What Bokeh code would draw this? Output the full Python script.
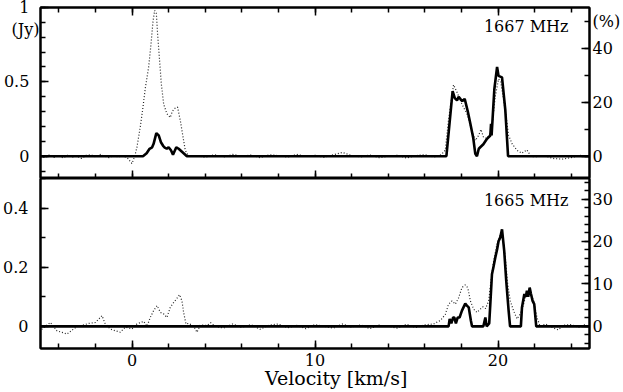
from bokeh.plotting import figure
from bokeh.layouts import column
from bokeh.models import (Range1d, LinearAxis, SingleIntervalTicker, FixedTicker, PrintfTickFormatter,
                          Label, ColumnDataSource)
from bokeh.embed import file_html
from bokeh.resources import INLINE

# ---------------- data (velocity km/s, flux Jy) ----------------
# 1667 MHz, dotted (total intensity)
up_dot = [(-5.0, 0.0), (-4.75, -0.01), (-4.5, 0.01), (-4.25, -0.008), (-4.0, 0.005), (-3.75, -0.012),
          (-3.5, 0.008), (-3.25, -0.005), (-3.0, 0.0), (-2.75, -0.015), (-2.5, 0.006), (-2.25, 0.01),
          (-2.0, -0.004), (-1.75, 0.012), (-1.5, 0.0), (-1.25, -0.01), (-1.0, 0.005), (-0.75, -0.006),
          (-0.5, 0.004), (-0.25, -0.012), (0.0, -0.05), (0.15, 0.0), (0.27, 0.06), (0.45, 0.195),
          (0.6, 0.33), (0.73, 0.46), (0.91, 0.6), (1.04, 0.756), (1.15, 0.91), (1.24, 0.98),
          (1.33, 0.96), (1.4, 0.82), (1.51, 0.64), (1.6, 0.49), (1.73, 0.35), (1.91, 0.285),
          (2.09, 0.26), (2.2, 0.3), (2.31, 0.32), (2.49, 0.33), (2.64, 0.24), (2.79, 0.128),
          (2.91, 0.04), (3.1, 0.0), (3.5, 0.005), (4.0, -0.008), (4.5, 0.01), (5.0, -0.005),
          (5.5, 0.012), (6.0, 0.0), (6.5, 0.008), (7.0, -0.01), (7.5, 0.01), (8.0, 0.004),
          (8.5, -0.006), (9.0, 0.012), (9.5, 0.0), (10.0, 0.006), (10.5, -0.008), (11.0, 0.01),
          (11.5, 0.025), (12.0, 0.005), (12.5, -0.005), (13.0, 0.008), (13.5, -0.01), (14.0, 0.0),
          (14.5, 0.006), (15.0, -0.012), (15.5, 0.004), (16.0, 0.01), (16.5, -0.006), (16.9, 0.01),
          (17.12, 0.04), (17.3, 0.25), (17.57, 0.48), (17.76, 0.43), (18.03, 0.35), (18.3, 0.285),
          (18.58, 0.17), (18.76, 0.105), (18.94, 0.14), (19.07, 0.18), (19.2, 0.13), (19.4, 0.12),
          (19.55, 0.15), (19.67, 0.195), (19.85, 0.4), (20.03, 0.52), (20.15, 0.5), (20.31, 0.375),
          (20.45, 0.26), (20.58, 0.14), (20.77, 0.083), (21.04, 0.04), (21.3, 0.02), (21.58, 0.043),
          (21.8, 0.0), (22.0, -0.005), (22.5, 0.005), (23.0, -0.015), (23.5, -0.02), (24.0, -0.01),
          (24.5, 0.005), (25.0, -0.008)]

# 1667 MHz, solid (polarized)
up_sol = [(-5.0, 0.0), (0.6, 0.0), (0.8, 0.02), (0.96, 0.05), (1.1, 0.06), (1.18, 0.083), (1.33, 0.155),
          (1.46, 0.14), (1.58, 0.094), (1.7, 0.07), (1.77, 0.06), (1.9, 0.05), (2.0, 0.06), (2.13, 0.04),
          (2.24, 0.01), (2.42, 0.06), (2.55, 0.05), (2.64, 0.04), (2.91, 0.01), (3.0, 0.0), (17.18, 0.0),
          (17.52, 0.437), (17.64, 0.39), (17.76, 0.375), (17.85, 0.4), (17.94, 0.386), (18.05, 0.37),
          (18.18, 0.386), (18.35, 0.3), (18.49, 0.218), (18.65, 0.12), (18.76, 0.016), (18.85, 0.0),
          (18.95, 0.05), (19.03, 0.06), (19.2, 0.08), (19.4, 0.117), (19.58, 0.139), (19.62, 0.218),
          (19.65, 0.14), (19.8, 0.45), (19.95, 0.6), (20.03, 0.54), (20.22, 0.53), (20.4, 0.31),
          (20.55, 0.0), (25.0, 0.0)]

# 1665 MHz, dotted
lo_dot = [(-5.0, 0.0), (-4.93, -0.01), (-4.46, 0.013), (-4.1, -0.015), (-3.55, -0.026), (-3.0, 0.0),
          (-2.73, 0.003), (-2.37, 0.01), (-2.0, 0.013), (-1.73, 0.03), (-1.64, 0.036), (-1.46, 0.008),
          (-1.19, -0.009), (-0.91, -0.015), (-0.64, -0.02), (-0.37, -0.003), (0.0, -0.009), (0.27, 0.008),
          (0.64, 0.017), (0.82, 0.0), (1.0, 0.03), (1.18, 0.053), (1.37, 0.07), (1.55, 0.047),
          (1.73, 0.042), (1.91, 0.03), (2.09, 0.064), (2.27, 0.08), (2.46, 0.095), (2.6, 0.107),
          (2.73, 0.086), (2.82, 0.047), (2.95, 0.008), (3.1, 0.01), (3.38, 0.0), (3.55, -0.02),
          (3.74, 0.005), (4.1, 0.003), (4.3, 0.012), (4.55, 0.0), (5.0, -0.006), (5.5, 0.008),
          (6.0, -0.004), (6.5, 0.006), (7.0, -0.01), (7.5, 0.004), (8.0, 0.008), (8.5, -0.005),
          (9.0, 0.003), (9.5, -0.008), (10.0, 0.006), (10.5, 0.0), (11.0, -0.006), (11.5, 0.008),
          (12.0, -0.003), (12.5, 0.005), (13.0, -0.008), (13.5, 0.004), (14.0, 0.0), (14.5, -0.006),
          (15.0, 0.007), (15.5, -0.004), (16.0, 0.005), (16.48, 0.008), (16.85, 0.02), (17.12, 0.04),
          (17.3, 0.075), (17.49, 0.086), (17.67, 0.075), (17.85, 0.097), (18.03, 0.131), (18.21, 0.14),
          (18.35, 0.13), (18.49, 0.086), (18.67, 0.058), (18.85, 0.047), (19.03, 0.058), (19.18, 0.066),
          (19.32, 0.06), (19.49, 0.086), (19.62, 0.154), (19.76, 0.22), (19.94, 0.277), (20.13, 0.31),
          (20.25, 0.305), (20.4, 0.232), (20.53, 0.143), (20.67, 0.086), (20.85, 0.053), (21.04, 0.025),
          (21.22, 0.042), (21.4, 0.075), (21.58, 0.12), (21.72, 0.12), (21.95, 0.086), (22.13, 0.03),
          (22.3, 0.0), (22.6, 0.008), (23.0, -0.005), (23.3, -0.012), (23.6, 0.004), (24.0, 0.006),
          (24.4, -0.004), (24.7, 0.005), (25.0, 0.0)]

# 1665 MHz, solid
lo_sol = [(-5.0, 0.0), (17.3, 0.0), (17.36, 0.025), (17.45, 0.01), (17.55, 0.03), (17.61, 0.03),
          (17.7, 0.01), (17.8, 0.03), (17.9, 0.03), (18.03, 0.053), (18.12, 0.065), (18.21, 0.077),
          (18.3, 0.07), (18.4, 0.064), (18.52, 0.019), (18.58, 0.0), (19.2, 0.0), (19.31, 0.03),
          (19.38, 0.0), (19.52, 0.01), (19.58, 0.075), (19.67, 0.176), (19.75, 0.2), (19.85, 0.232),
          (19.95, 0.26), (20.03, 0.288), (20.12, 0.3), (20.22, 0.328), (20.34, 0.255), (20.45, 0.154),
          (20.58, 0.053), (20.66, 0.0), (21.25, 0.0), (21.31, 0.064), (21.44, 0.109), (21.52, 0.1),
          (21.58, 0.12), (21.65, 0.1), (21.73, 0.131), (21.8, 0.11), (21.89, 0.086), (21.98, 0.075),
          (22.09, 0.0), (25.0, 0.0)]

x_limits = (-5, 25)
x_major = [0, 10, 20]
up_y = (-0.15, 1.0)
lo_y = (-0.075, 0.5)
jy_per_pct_up = 0.01816
jy_per_pct_lo = 0.01435

# upper-panel tick labels (value -> text); unit labels sit at a tick position of their own
up_left_labels = {0: "0", 0.5: "0.5", 1: "1", 0.852: "(Jy)"}
up_right_labels = {0: "0", 20: "20", 40: "40", 50: "(%)"}

SERIF = "DejaVu Serif"
FS = "16px"
PAD = "\u00a0\u00a0"


def src(pairs):
    return ColumnDataSource(dict(x=[a for a, b in pairs], y=[b for a, b in pairs]))


def ticks_style(ax):
    ax.axis_line_width = 2
    ax.axis_line_color = "black"
    ax.major_tick_in = 8
    ax.major_tick_out = 0
    ax.minor_tick_in = 5
    ax.minor_tick_out = 0
    ax.major_tick_line_width = 1.5
    ax.minor_tick_line_width = 1.5
    ax.major_tick_line_color = "black"
    ax.minor_tick_line_color = "black"


def label_style(ax, standoff):
    ax.major_label_text_font = SERIF
    ax.major_label_text_font_size = FS
    ax.major_label_text_color = "black"
    ax.major_label_standoff = standoff


def no_labels(ax, ticks):
    ax.major_label_overrides = {t: "" for t in ticks}
    ax.major_label_text_font_size = "1px"
    ax.major_label_standoff = 0


def labels_only(ax):
    ax.axis_line_color = None
    ax.major_tick_line_color = None
    ax.minor_tick_line_color = None
    ax.major_tick_in = 0
    ax.major_tick_out = 0
    ax.minor_tick_in = 0
    ax.minor_tick_out = 0


def make_fig(height, yr, pct_range, top, bottom):
    p = figure(width=623, height=height, x_range=Range1d(*x_limits), y_range=Range1d(*yr),
               output_backend="svg", toolbar_location=None,
               x_axis_location=None, y_axis_location=None,
               min_border_left=39, min_border_right=34, min_border_top=top, min_border_bottom=bottom)
    p.extra_y_ranges = {"pct": Range1d(*pct_range)}
    p.xgrid.visible = False
    p.ygrid.visible = False
    p.outline_line_color = "black"
    p.outline_line_width = 2
    p.background_fill_color = "white"
    p.border_fill_color = "white"
    return p


# ---------------- upper panel ----------------
p1 = make_fig(178, up_y, (up_y[0] / jy_per_pct_up, up_y[1] / jy_per_pct_up), 7, 0)
# left: ticks (inner) + labels (outer)
ax = LinearAxis(ticker=SingleIntervalTicker(interval=0.5, num_minor_ticks=5))
ticks_style(ax)
no_labels(ax, [0, 0.5, 1.0])
p1.add_layout(ax, "left")
ax = LinearAxis(ticker=FixedTicker(ticks=list(up_left_labels.keys()), minor_ticks=[]))
labels_only(ax)
label_style(ax, 1)
ax.major_label_overrides = {k: (v if v.startswith("(") else v + PAD) for k, v in up_left_labels.items()}
p1.add_layout(ax, "left")
# right: ticks (inner) + labels (outer)
ax = LinearAxis(y_range_name="pct", ticker=SingleIntervalTicker(interval=20, num_minor_ticks=2))
ticks_style(ax)
no_labels(ax, [0, 20, 40])
p1.add_layout(ax, "right")
ax = LinearAxis(y_range_name="pct", ticker=FixedTicker(ticks=list(up_right_labels.keys()), minor_ticks=[]))
labels_only(ax)
label_style(ax, 3)
ax.major_label_overrides = dict(up_right_labels)
p1.add_layout(ax, "right")
for side in ("above", "below"):
    ax = LinearAxis(ticker=SingleIntervalTicker(interval=10, num_minor_ticks=5))
    ticks_style(ax)
    no_labels(ax, x_major)
    p1.add_layout(ax, side)

p1.line("x", "y", source=src(up_dot), line_color="#222222", line_width=1.2, line_dash="1 2")
p1.line("x", "y", source=src(up_sol), line_color="black", line_width=2.6)

p1.add_layout(Label(x=25, y=0.87, x_offset=-21, text="1667 MHz", text_align="right",
                    text_baseline="middle", text_font=SERIF, text_font_size=FS, text_color="black"))

# ---------------- lower panel ----------------
p2 = make_fig(214, lo_y, (lo_y[0] / jy_per_pct_lo, lo_y[1] / jy_per_pct_lo), 0, 44)
ax = LinearAxis(ticker=SingleIntervalTicker(interval=0.2, num_minor_ticks=2),
                formatter=PrintfTickFormatter(format="%g"))
ticks_style(ax)
label_style(ax, 12)
p2.add_layout(ax, "left")
ax = LinearAxis(y_range_name="pct", ticker=SingleIntervalTicker(interval=10, num_minor_ticks=5))
ticks_style(ax)
label_style(ax, 3)
p2.add_layout(ax, "right")
ax = LinearAxis(ticker=SingleIntervalTicker(interval=10, num_minor_ticks=5),
                axis_label="\u00a0" * 7 + "Velocity [km/s]")
ticks_style(ax)
label_style(ax, 5)
ax.axis_label_text_font = SERIF
ax.axis_label_text_font_size = "19px"
ax.axis_label_text_font_style = "normal"
ax.axis_label_text_color = "black"
ax.axis_label_standoff = -2
p2.add_layout(ax, "below")

p2.line("x", "y", source=src(lo_dot), line_color="#222222", line_width=1.2, line_dash="1 2")
p2.line("x", "y", source=src(lo_sol), line_color="black", line_width=2.6)

p2.add_layout(Label(x=25, y=0.426, x_offset=-21, text="1665 MHz", text_align="right",
                    text_baseline="middle", text_font=SERIF, text_font_size=FS, text_color="black"))

layout = column(p1, p2, spacing=0, margin=0)

open("out.html", "w").write(file_html(layout, INLINE))
